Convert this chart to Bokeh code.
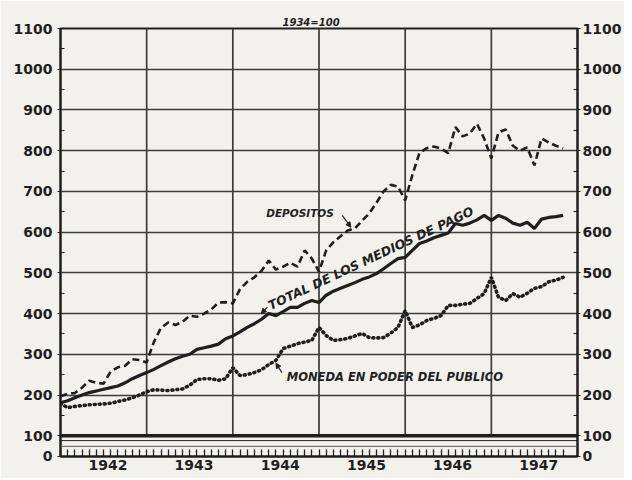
from bokeh.plotting import figure
from bokeh.models import Range1d, FixedTicker, LinearAxis, Span, Label, Arrow, NormalHead
from bokeh.embed import file_html
from bokeh.resources import INLINE

# ---------------- data (index numbers, 1934 = 100), monthly from 1942 ----------------
years = [1942, 1943, 1944, 1945, 1946, 1947, 1948]
year_labels = ["1942", "1943", "1944", "1945", "1946", "1947"]
y_values = [100, 200, 300, 400, 500, 600, 700, 800, 900, 1000, 1100]
y_labels = ["100", "200", "300", "400", "500", "600", "700", "800", "900", "1000", "1100"]
zero_label = "0"

depositos = [197, 203, 205, 218, 235, 230, 228, 258, 268, 272, 288, 286, 280,
             330, 365, 378, 372, 380, 395, 392, 400, 410, 427, 428, 425,
             460, 478, 489, 505, 530, 508, 515, 525, 515, 555, 535, 503,
             555, 575, 590, 604, 609, 628, 646, 672, 700, 716, 712, 678,
             740, 795, 806, 810, 805, 794, 858, 835, 842, 866, 830, 781,
             845, 852, 812, 800, 808, 764, 830, 820, 812, 806]

total = [181, 186, 193, 200, 206, 210, 214, 218, 222, 230, 240, 248, 255,
         263, 272, 281, 289, 295, 300, 312, 316, 320, 325, 338, 345,
         355, 366, 375, 386, 400, 395, 405, 415, 415, 425, 432, 427,
         445, 455, 462, 469, 476, 484, 490, 498, 510, 523, 535, 538,
         555, 572, 578, 586, 592, 598, 621, 617, 622, 630, 641, 629,
         641, 634, 622, 617, 624, 609, 632, 636, 638, 641]

moneda = [179, 169, 172, 174, 176, 177, 178, 180, 184, 188, 193, 200, 208,
          213, 212, 211, 213, 215, 224, 238, 240, 240, 236, 240, 267,
          248, 250, 255, 262, 275, 285, 314, 320, 326, 330, 334, 366,
          346, 334, 336, 339, 345, 351, 341, 340, 341, 352, 366, 407,
          366, 372, 383, 388, 395, 420, 420, 423, 425, 437, 449, 489,
          440, 432, 449, 440, 450, 462, 466, 478, 482, 489]

months = [years[0] + i / 12 for i in range(len(depositos))]

# ---------------- styling ----------------
BG = "#f2f1ec"
INK = "#1f1f1f"
GRID = "#3c3c3c"
FONT = "DejaVu Sans"
ZERO_POS = 50  # broken-axis position of the "0" label

p = figure(width=624, height=478,
           x_range=Range1d(years[0], years[-1]), y_range=Range1d(49, 1100),
           output_backend="svg", toolbar_location=None,
           min_border_left=60, min_border_right=46, min_border_top=28, min_border_bottom=22,
           background_fill_color=BG, border_fill_color=BG,
           outline_line_color=INK, outline_line_width=2,
           title="1934=100")

p.title.align = "left"
p.title.offset = 222
p.title.standoff = 1
p.title.text_font = FONT
p.title.text_font_style = "bold italic"
p.title.text_font_size = "10px"
p.title.text_color = INK

# horizontal grid
p.ygrid.ticker = FixedTicker(ticks=y_values[1:-1])
p.ygrid.grid_line_color = GRID
p.ygrid.grid_line_width = 1.7
p.xgrid.visible = False

# vertical year lines (from 100 to 1100)
p.segment(x0=years[1:-1], y0=[y_values[0]] * 5, x1=years[1:-1], y1=[y_values[-1]] * 5,
          line_color=GRID, line_width=1.7)

# thick 100 baseline and broken-axis strip
p.add_layout(Span(location=y_values[0], dimension="width", line_color=INK, line_width=3.5))
p.add_layout(Span(location=88, dimension="width", line_color=INK, line_width=1))
p.add_layout(Span(location=74, dimension="width", line_color="#555555", line_width=1))

# series
p.line(months, depositos, line_color=INK, line_width=2.6, line_dash="7 4")
p.line(months, total, line_color=INK, line_width=3.2)
p.line(months, moneda, line_color=INK, line_width=3.6, line_dash="1 4", line_cap="round")

# y axes (left and right)
ticks = [ZERO_POS] + y_values
overrides = {ZERO_POS: zero_label}
for v, s in zip(y_values, y_labels):
    overrides[v] = s
minor = [v + 50 for v in y_values[:-1]]

right = LinearAxis()
p.add_layout(right, "right")
for ax in (p.yaxis[0], right):
    ax.ticker = FixedTicker(ticks=ticks, minor_ticks=minor)
    ax.major_label_overrides = overrides
    ax.major_label_text_font = FONT
    ax.major_label_text_font_style = "bold"
    ax.major_label_text_font_size = "14px"
    ax.major_label_text_color = INK
    ax.axis_line_color = INK
    ax.axis_line_width = 2
    ax.major_tick_in = 0
    ax.major_tick_out = 3
    ax.major_tick_line_color = INK
    ax.minor_tick_in = 4
    ax.minor_tick_out = 0
    ax.minor_tick_line_color = INK
p.yaxis[0].major_label_standoff = 5
right.major_label_standoff = 2

# x axis: year labels at mid-year, monthly ticks
label_pos = [y + 0.55 for y in years[:-1]]
xa = p.xaxis[0]
xa.ticker = FixedTicker(ticks=label_pos, minor_ticks=months + [years[-1]])
xa.major_label_overrides = {pos: lab for pos, lab in zip(label_pos, year_labels)}
xa.major_label_text_font = FONT
xa.major_label_text_font_style = "bold"
xa.major_label_text_font_size = "14px"
xa.major_label_text_color = INK
xa.major_label_standoff = 3
xa.major_tick_in = 0
xa.major_tick_out = 0
xa.minor_tick_in = 7
xa.minor_tick_out = 0
xa.minor_tick_line_color = INK
xa.minor_tick_line_width = 1.3
xa.axis_line_color = INK
xa.axis_line_width = 2

# annotations
lab_kw = dict(text_font=FONT, text_font_style="bold italic", text_color=INK,
              text_align="center", text_baseline="middle")
p.add_layout(Label(x=1944.78, y=646, text="DEPOSITOS", text_font_size="10.5px", **lab_kw))
p.add_layout(Label(x=1945.60, y=536, text="TOTAL DE LOS MEDIOS DE PAGO", angle=0.44,
                   text_font_size="12.5px", **lab_kw))
p.add_layout(Label(x=1945.88, y=245, text="MONEDA EN PODER DEL PUBLICO",
                   text_font_size="11.5px", **lab_kw))

head = dict(size=5, fill_color=INK, line_color=INK)
p.add_layout(Arrow(x_start=1945.27, y_start=641, x_end=1945.37, y_end=612,
                   line_width=1.2, line_color=INK, end=NormalHead(**head)))
p.add_layout(Arrow(x_start=1944.40, y_start=416, x_end=1944.33, y_end=400,
                   line_width=1.2, line_color=INK, end=NormalHead(**head)))
p.add_layout(Arrow(x_start=1944.57, y_start=255, x_end=1944.50, y_end=278,
                   line_width=1.2, line_color=INK, end=NormalHead(**head)))

open("out.html", "w").write(file_html(p, INLINE))
